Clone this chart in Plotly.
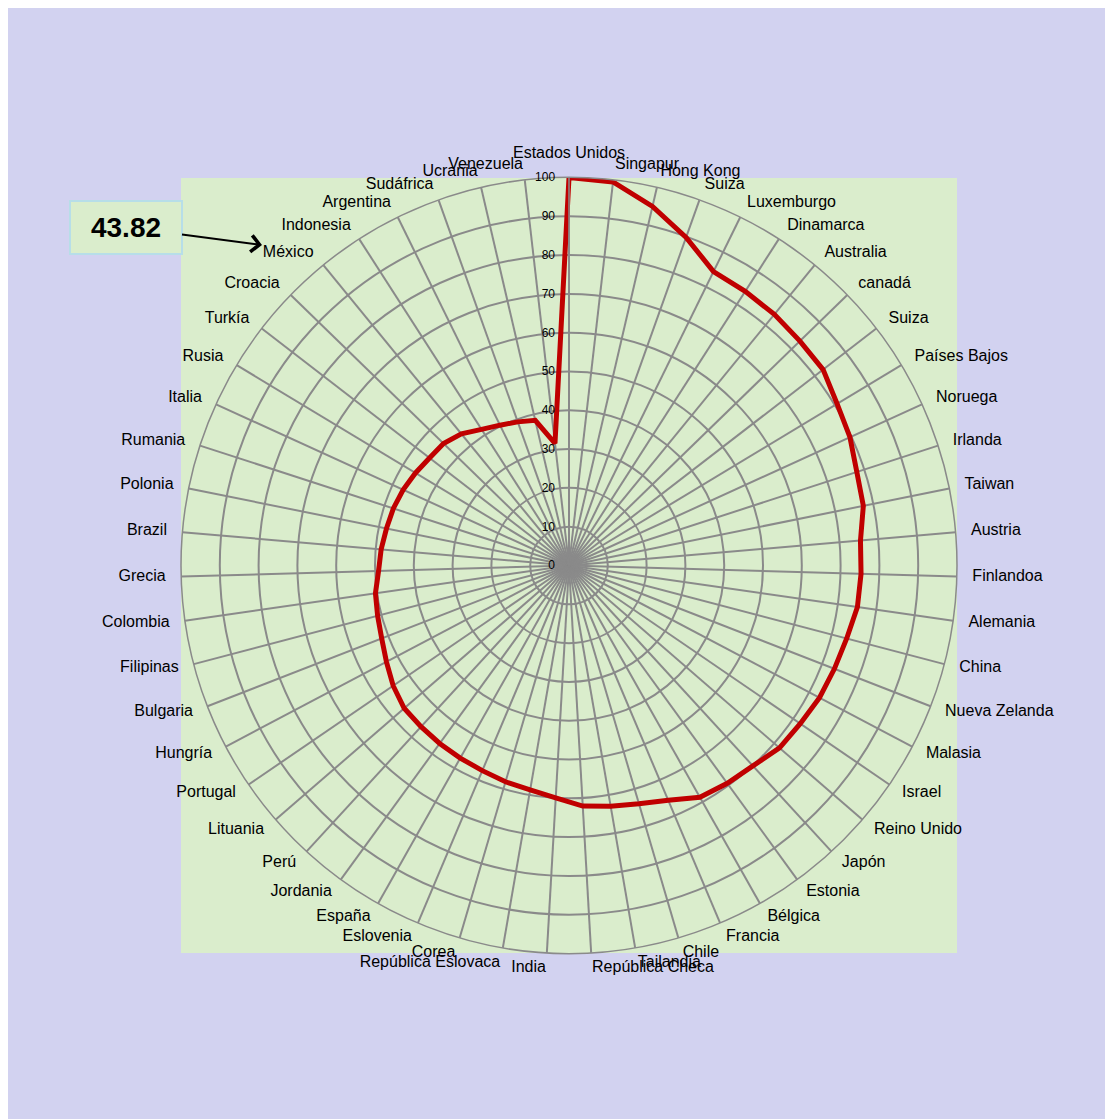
import plotly.graph_objects as go

countries = [
    "Estados Unidos", "Singapur", "Hong Kong", "Suiza", "Luxemburgo", "Dinamarca",
    "Australia", "canadá", "Suiza", "Países Bajos", "Noruega", "Irlanda", "Taiwan",
    "Austria", "Finlandoa", "Alemania", "China", "Nueva Zelanda", "Malasia", "Israel",
    "Reino Unido", "Japón", "Estonia", "Bélgica", "Francia", "Chile", "Tailandia",
    "República Checa", "India", "República Eslovaca", "Corea", "Eslovenia", "España",
    "Jordania", "Perú", "Lituania", "Portugal", "Hungría", "Bulgaria", "Filipinas",
    "Colombia", "Grecia", "Brazil", "Polonia", "Rumania", "Italia", "Rusia", "Turkía",
    "Croacia", "México", "Indonesia", "Argentina", "Sudáfrica", "Ucrania", "Venezuela",
]

scores = [
    100.0, 99.5, 95.0, 89.8, 84.4, 84.0,
    83.6, 83.0, 82.7, 80.7, 79.6, 78.0, 77.4,
    75.4, 75.3, 75.1, 74.0, 73.4, 73.0, 72.2,
    71.8, 70.1, 69.4, 68.6, 65.7, 64.0, 63.0,
    62.1, 60.0, 58.7, 58.1, 57.4, 57.0,
    56.7, 56.4, 56.2, 54.9, 53.2, 51.8, 51.0,
    50.4, 49.1, 48.6, 48.0, 47.6, 47.0, 46.2, 45.4,
    45.1, 43.82, 41.7, 40.3, 39.3, 38.4, 31.7,
]

radial_ticks = [0, 10, 20, 30, 40, 50, 60, 70, 80, 90, 100]
highlight_value = 43.82

n = len(countries)
theta = [i * 360.0 / n for i in range(n)]

# page body margin of the browser is 8px, so the figure is sized to fill the rest
W, H = 1105, 1111
CX, CY, R = 561.0, 557.5, 388.0     # chart centre / radius in figure pixels
LABEL_RANGE = 110.0                 # radial range of the overlay that carries labels
LABEL_R = 104.0                     # radius at which category labels sit
GRID = "#8a8a8a"
FONT = "Arial, Liberation Sans, sans-serif"


def domain(radius):
    return dict(x=[(CX - radius) / W, (CX + radius) / W],
                y=[1 - (CY + radius) / H, 1 - (CY - radius) / H])


label_pos = []
for t in theta:
    if t == 0:
        label_pos.append("top center")
    elif t < 180:
        label_pos.append("middle right")
    else:
        label_pos.append("middle left")

fig = go.Figure()
fig.add_trace(go.Scatterpolar(
    r=scores + [scores[0]],
    theta=theta + [360.0],
    mode="lines",
    line=dict(color="#C00000", width=5),
    hoverinfo="skip",
    showlegend=False,
    subplot="polar",
))
fig.add_trace(go.Scatterpolar(
    r=[LABEL_R] * n,
    theta=theta,
    mode="text",
    text=countries,
    textposition=label_pos,
    textfont=dict(size=16, color="black", family=FONT),
    cliponaxis=False,
    hoverinfo="skip",
    showlegend=False,
    subplot="polar2",
))

fig.update_layout(
    width=W, height=H,
    margin=dict(l=0, r=0, t=0, b=0),
    paper_bgcolor="#D2D2F0",
    showlegend=False,
    font=dict(family=FONT, color="black"),
    polar=dict(
        domain=domain(R),
        bgcolor="#DAEDCC",
        angularaxis=dict(
            type="linear",
            thetaunit="degrees",
            rotation=90,
            direction="clockwise",
            tickmode="array",
            tickvals=theta,
            ticktext=countries,
            showticklabels=False,
            ticks="",
            showline=True,
            linecolor=GRID,
            linewidth=1.5,
            gridcolor=GRID,
            gridwidth=1.5,
        ),
        radialaxis=dict(
            range=[0, 100],
            tickmode="array",
            tickvals=radial_ticks,
            ticktext=[str(v) for v in radial_ticks],
            angle=90,
            tickangle=90,
            side="counterclockwise",
            ticks="outside",
            ticklen=9,
            tickcolor="rgba(0,0,0,0)",
            showline=True,
            linecolor=GRID,
            linewidth=1.5,
            gridcolor=GRID,
            gridwidth=1.5,
            tickfont=dict(size=12, color="black"),
        ),
    ),
    polar2=dict(
        domain=domain(R * LABEL_RANGE / 100.0),
        bgcolor="rgba(0,0,0,0)",
        angularaxis=dict(
            type="linear",
            thetaunit="degrees",
            rotation=90,
            direction="clockwise",
            visible=False,
            showgrid=False,
            showline=False,
        ),
        radialaxis=dict(
            range=[0, LABEL_RANGE],
            visible=False,
            showgrid=False,
            showline=False,
        ),
    ),
    shapes=[
        dict(type="rect", xref="paper", yref="paper", layer="below",
             x0=173 / W, x1=949 / W, y0=1 - 945 / H, y1=1 - 170 / H,
             fillcolor="#DAEDCC", line=dict(width=0)),
    ],
    annotations=[
        dict(
            xref="paper", yref="paper",
            x=254 / W, y=1 - 237 / H,
            ax=-136, ay=-18,
            text=f"<b>{highlight_value:.2f}</b>",
            font=dict(size=28, color="black", family=FONT),
            showarrow=True,
            arrowhead=4, arrowsize=1.6, arrowwidth=2, arrowcolor="black",
            bgcolor="#DAEDCC",
            bordercolor="#B7DEE8", borderwidth=2, borderpad=3,
            width=104, height=45,
        ),
    ],
)

fig.write_html("out.html")
